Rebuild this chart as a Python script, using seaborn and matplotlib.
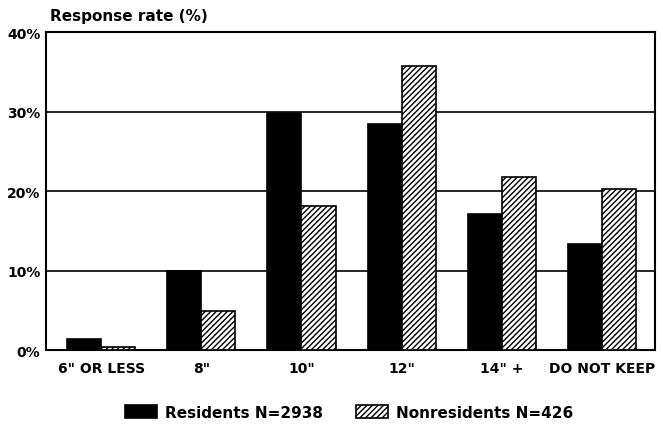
import pandas as pd
import matplotlib
matplotlib.use('Agg')
import matplotlib.pyplot as plt
import seaborn as sns

# Datos
categorias = ['6" OR LESS', '8"', '10"', '12"', '14" +', 'DO NOT KEEP']
residentes = [1.4, 10.0, 29.8, 28.4, 17.1, 13.3]
no_residentes = [0.4, 4.9, 18.1, 35.7, 21.8, 20.2]
grupos = ['Residents N=2938', 'Nonresidents N=426']

df = pd.DataFrame({
    'categoria': categorias * 2,
    'valor': residentes + no_residentes,
    'grupo': [grupos[0]] * len(categorias) + [grupos[1]] * len(categorias),
})

sns.set_style('white')
plt.rcParams['font.family'] = ['DejaVu Sans']
plt.rcParams['text.color'] = 'black'
plt.rcParams['xtick.color'] = 'black'
plt.rcParams['ytick.color'] = 'black'
plt.rcParams['hatch.linewidth'] = 1.0

fig = plt.figure(figsize=(6.63, 4.35), dpi=100)
ax = fig.add_axes([0.0694, 0.193, 0.9186, 0.731])

sns.barplot(data=df, x='categoria', y='valor', hue='grupo', order=categorias,
            hue_order=grupos, palette=['black', 'white'], width=0.68,
            edgecolor='black', linewidth=1.2, saturation=1, ax=ax, zorder=3)

# Rayado para no residentes
for barra in ax.containers[1]:
    barra.set_hatch('//////')
    barra.set_facecolor('white')

ax.set_ylim(0, 40)
ax.set_xlim(-0.55, 5.53)
ax.set_yticks([0, 10, 20, 30, 40])
ax.set_yticklabels(['0%', '10%', '20%', '30%', '40%'], fontweight='bold', fontsize=10)
ax.set_xticks(range(len(categorias)))
ax.set_xticklabels(categorias, fontweight='bold', fontsize=10)
ax.tick_params(axis='y', length=0, pad=4)
ax.tick_params(axis='x', length=0, pad=8)
ax.set_xlabel('')
ax.set_ylabel('')
for y in [10, 20, 30]:
    ax.axhline(y, color='black', linewidth=1.2, zorder=1)
for lado in ax.spines.values():
    lado.set_color('black')
    lado.set_linewidth(1.5)

fig.text(0.075, 0.961, 'Response rate (%)', fontweight='bold', fontsize=11, va='center')

handles, labels = ax.get_legend_handles_labels()
ax.get_legend().remove()
handles[1].set_hatch('//////')
fig.legend(handles, labels, loc='center', bbox_to_anchor=(0.526, 0.05), ncol=2,
           frameon=False, handlelength=2.1, handleheight=0.92, columnspacing=2.15,
           handletextpad=0.52, prop={'weight': 'bold', 'size': 11})

plt.savefig('out.png', dpi=100)
plt.close()
